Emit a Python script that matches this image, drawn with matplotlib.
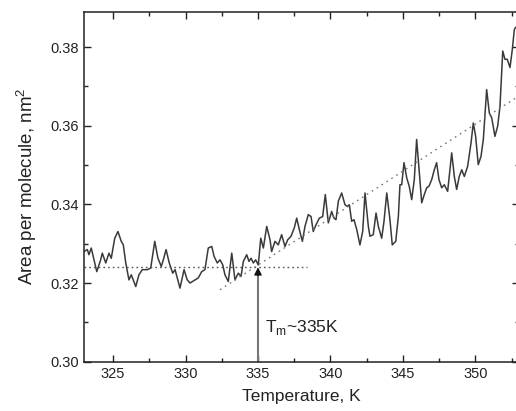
import matplotlib
matplotlib.use("Agg")
import matplotlib.pyplot as plt
from matplotlib.ticker import MultipleLocator, FormatStrFormatter

plt.rcParams['font.family'] = ['Liberation Sans', 'DejaVu Sans']

# area per molecule vs temperature
temperature = [
    323.00, 323.23, 323.34, 323.50, 323.69, 323.88, 324.15, 324.26, 324.50, 324.72,
    324.88, 325.12, 325.34, 325.57, 325.71, 325.88, 326.10, 326.26, 326.57, 326.79,
    327.02, 327.37, 327.60, 327.88, 328.10, 328.33, 328.47, 328.66, 328.88, 329.12,
    329.28, 329.62, 329.90, 330.12, 330.31, 330.66, 330.88, 331.12, 331.34, 331.57,
    331.81, 331.97, 332.19, 332.38, 332.57, 332.72, 332.95, 333.19, 333.41, 333.64,
    333.83, 333.99, 334.22, 334.38, 334.52, 334.68, 334.84, 335.02, 335.19, 335.37,
    335.60, 335.83, 335.94, 336.17, 336.40, 336.63, 336.86, 337.05, 337.28, 337.50,
    337.67, 337.85, 338.06, 338.24, 338.47, 338.66, 338.81, 339.00, 339.23, 339.46,
    339.64, 339.85, 340.08, 340.24, 340.38, 340.54, 340.77, 341.00, 341.16, 341.30,
    341.46, 341.62, 341.81, 342.03, 342.22, 342.38, 342.61, 342.72, 342.95, 343.14,
    343.30, 343.53, 343.69, 343.88, 344.10, 344.26, 344.50, 344.68, 344.79, 344.91,
    345.07, 345.26, 345.43, 345.60, 345.78, 345.94, 346.10, 346.29, 346.47, 346.63,
    346.79, 346.98, 347.16, 347.32, 347.48, 347.67, 347.85, 348.08, 348.36, 348.54,
    348.70, 348.88, 349.05, 349.23, 349.46, 349.69, 349.85, 350.01, 350.19, 350.38,
    350.54, 350.77, 350.95, 351.12, 351.34, 351.53, 351.69, 351.88, 352.03, 352.19,
    352.38, 352.54, 352.68, 352.77,
]
area = [
    0.3280, 0.3285, 0.3272, 0.3289, 0.3259, 0.3229, 0.3259, 0.3276, 0.3251, 0.3276,
    0.3263, 0.3314, 0.3331, 0.3306, 0.3297, 0.3251, 0.3208, 0.3221, 0.3191, 0.3221,
    0.3234, 0.3234, 0.3238, 0.3306, 0.3263, 0.3242, 0.3259, 0.3285, 0.3251, 0.3225,
    0.3234, 0.3187, 0.3234, 0.3208, 0.3200, 0.3208, 0.3213, 0.3229, 0.3234, 0.3289,
    0.3293, 0.3268, 0.3251, 0.3259, 0.3246, 0.3221, 0.3204, 0.3276, 0.3208, 0.3225,
    0.3217, 0.3255, 0.3272, 0.3255, 0.3263, 0.3251, 0.3259, 0.3246, 0.3314, 0.3289,
    0.3344, 0.3310, 0.3280, 0.3306, 0.3297, 0.3323, 0.3293, 0.3310, 0.3319, 0.3340,
    0.3365, 0.3336, 0.3306, 0.3344, 0.3374, 0.3369, 0.3331, 0.3348, 0.3365, 0.3369,
    0.3425, 0.3353, 0.3382, 0.3365, 0.3361, 0.3408, 0.3429, 0.3399, 0.3395, 0.3399,
    0.3357, 0.3361, 0.3336, 0.3297, 0.3331, 0.3429, 0.3344, 0.3319, 0.3323, 0.3378,
    0.3344, 0.3314, 0.3357, 0.3429, 0.3361, 0.3297, 0.3306, 0.3369, 0.3450, 0.3450,
    0.3506, 0.3467, 0.3446, 0.3412, 0.3463, 0.3565, 0.3493, 0.3404, 0.3425, 0.3442,
    0.3446, 0.3463, 0.3488, 0.3506, 0.3463, 0.3442, 0.3450, 0.3433, 0.3531, 0.3471,
    0.3438, 0.3471, 0.3488, 0.3471, 0.3497, 0.3556, 0.3607, 0.3573, 0.3501, 0.3522,
    0.3565, 0.3692, 0.3633, 0.3620, 0.3573, 0.3599, 0.3650, 0.3790, 0.3769, 0.3769,
    0.3748, 0.3794, 0.3845, 0.3850,
]

# guide lines
flat_t = [323.0, 338.4]
flat_a = [0.3242, 0.3242]
slope_t = [332.38, 353.0]
slope_a = [0.3183, 0.3676]

tm = 335.0
tm_area = 0.3240

fig = plt.figure(figsize=(5.16, 4.11), dpi=100)
ax = fig.add_axes([0.1628, 0.12, 0.843, 0.8516])

ax.plot(temperature, area, color='#3a3a3a', lw=1.1, solid_joinstyle='round')
ax.plot(flat_t, flat_a, color='#555555', lw=1.0, linestyle=(0, (1.2, 2.2)))
ax.plot(slope_t, slope_a, color='#777777', lw=1.0, linestyle=(0, (1.2, 3.0)))

# arrow: grey shaft, dark head
ax.plot([tm, tm], [0.30, tm_area - 0.002], color='#777777', lw=1.5)
ax.annotate('', xy=(tm, tm_area), xytext=(tm, tm_area - 0.002),
            arrowprops=dict(arrowstyle='-|>', color='#111111', lw=1.0,
                            mutation_scale=11, shrinkA=0, shrinkB=0))
ax.text(tm + 0.45, 0.3076, r'T$_\mathregular{m}$~335K', fontsize=12.5,
        color='#222222', va='baseline', ha='left')

ax.set_xlim(323, 353)
ax.set_ylim(0.30, 0.389)
ax.xaxis.set_major_locator(MultipleLocator(5))
ax.xaxis.set_minor_locator(MultipleLocator(2.5))
ax.yaxis.set_major_locator(MultipleLocator(0.02))
ax.yaxis.set_minor_locator(MultipleLocator(0.01))
ax.yaxis.set_major_formatter(FormatStrFormatter('%.2f'))
ax.tick_params(which='both', direction='in', top=True, right=True,
               labelsize=10.5, colors='#222222')
ax.tick_params(which='major', length=5, width=1)
ax.tick_params(which='minor', length=3, width=1)
for s in ax.spines.values():
    s.set_linewidth(1.1)
    s.set_color('#222222')

ax.set_xlabel('Temperature, K', fontsize=12.5, color='#222222', labelpad=6)
ax.set_ylabel('Area per molecule, nm$^\\mathregular{2}$', fontsize=13.5,
              color='#222222', labelpad=8)

fig.savefig('out.png', dpi=100)
